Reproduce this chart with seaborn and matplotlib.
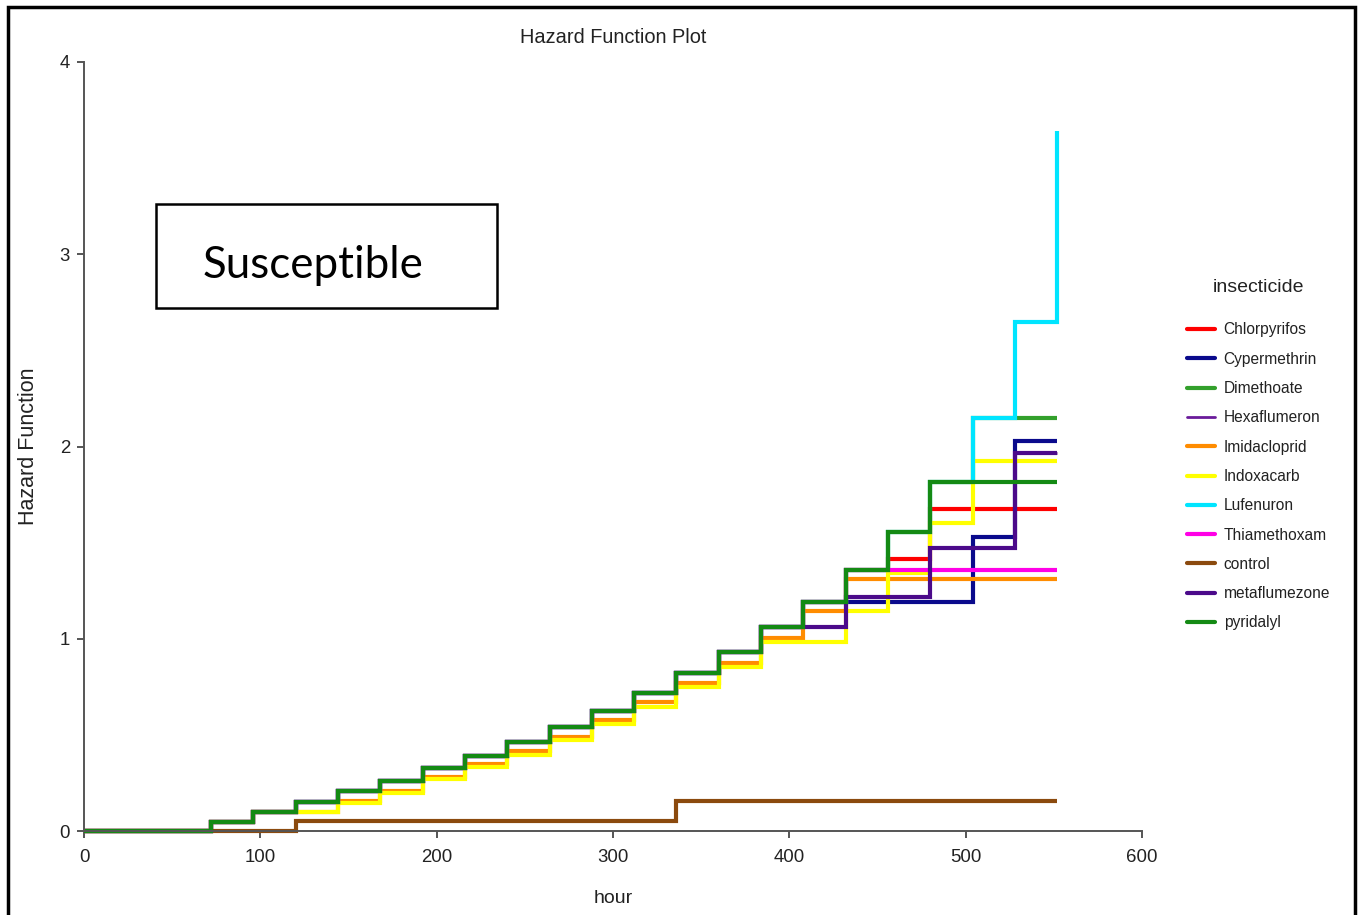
import numpy as np
import pandas as pd
import matplotlib
matplotlib.use("Agg")
import matplotlib.pyplot as plt
import seaborn as sns
from matplotlib.patches import Rectangle
from matplotlib.lines import Line2D

# ---------------- data ----------------
hours = [0, 24, 48, 72, 96, 120, 144, 168, 192, 216, 240, 264, 288, 312,
         336, 360, 384, 408, 432, 456, 480, 504, 528, 552]

insecticides = ["Chlorpyrifos", "Cypermethrin", "Dimethoate", "Hexaflumeron",
                "Imidacloprid", "Indoxacarb", "Lufenuron", "Thiamethoxam",
                "control", "metaflumezone", "pyridalyl"]

chlorpyrifos = [0, 0, 0, 0.048, 0.10, 0.152, 0.21, 0.26, 0.33, 0.39, 0.464, 0.543,
                0.624, 0.72, 0.82, 0.933, 1.06, 1.193, 1.358, 1.415, 1.673, 1.673, 1.673, 1.673]
cypermethrin = [0, 0, 0, 0.048, 0.10, 0.152, 0.21, 0.26, 0.33, 0.39, 0.464, 0.543,
                0.624, 0.72, 0.82, 0.933, 1.06, 1.193, 1.193, 1.193, 1.193, 1.53, 2.028, 2.028]
dimethoate = [0, 0, 0, 0.048, 0.10, 0.152, 0.21, 0.26, 0.33, 0.39, 0.464, 0.543,
              0.624, 0.72, 0.82, 0.933, 1.06, 1.193, 1.358, 1.557, 1.814, 2.147, 2.147, 2.147]
hexaflumeron = [0, 0, 0, 0.048, 0.10, 0.152, 0.21, 0.26, 0.33, 0.39, 0.464, 0.543,
                0.624, 0.72, 0.82, 0.933, 1.06, 1.06, 1.215, 1.215, 1.474, 1.474, 1.968, 1.968]
imidacloprid = [0, 0, 0, 0.048, 0.10, 0.10, 0.156, 0.21, 0.283, 0.347, 0.418, 0.487,
                0.577, 0.673, 0.768, 0.876, 1.002, 1.146, 1.31, 1.31, 1.31, 1.31, 1.31, 1.31]
indoxacarb = [0, 0, 0, 0.048, 0.10, 0.10, 0.146, 0.20, 0.27, 0.335, 0.397, 0.475,
              0.557, 0.647, 0.747, 0.855, 0.985, 0.985, 1.146, 1.34, 1.60, 1.926, 1.926, 1.926]
lufenuron = [0, 0, 0, 0.048, 0.10, 0.152, 0.21, 0.26, 0.33, 0.39, 0.464, 0.543,
             0.624, 0.72, 0.82, 0.933, 1.06, 1.193, 1.358, 1.557, 1.814, 2.147, 2.648, 3.64]
thiamethoxam = [0, 0, 0, 0.048, 0.10, 0.152, 0.21, 0.26, 0.33, 0.39, 0.464, 0.543,
                0.624, 0.72, 0.82, 0.933, 1.06, 1.193, 1.358, 1.358, 1.358, 1.358, 1.358, 1.358]
control = [0, 0, 0, 0, 0, 0.054, 0.054, 0.054, 0.054, 0.054, 0.054, 0.054,
           0.054, 0.054, 0.156, 0.156, 0.156, 0.156, 0.156, 0.156, 0.156, 0.156, 0.156, 0.156]
metaflumezone = [0, 0, 0, 0.048, 0.10, 0.152, 0.21, 0.26, 0.33, 0.39, 0.464, 0.543,
                 0.624, 0.72, 0.82, 0.933, 1.06, 1.06, 1.215, 1.215, 1.474, 1.474, 1.968, 1.968]
pyridalyl = [0, 0, 0, 0.048, 0.10, 0.152, 0.21, 0.26, 0.33, 0.39, 0.464, 0.543,
             0.624, 0.72, 0.82, 0.933, 1.06, 1.193, 1.358, 1.557, 1.814, 1.814, 1.814, 1.814]

series_values = [chlorpyrifos, cypermethrin, dimethoate, hexaflumeron, imidacloprid,
                 indoxacarb, lufenuron, thiamethoxam, control, metaflumezone, pyridalyl]

x_ticks = [0, 100, 200, 300, 400, 500, 600]
y_ticks = [0, 1, 2, 3, 4]

# ---------------- style ----------------
colors = ["#ff0000", "#0a0a8c", "#33a02c", "#6a1b9a", "#ff8c00", "#ffff00",
          "#00e5ff", "#ff00e6", "#8b4a0e", "#4b0a8a", "#148a14"]
widths = [3.0, 3.0, 3.0, 2.0, 3.0, 3.0, 3.0, 3.0, 3.0, 3.0, 3.0]

sns.set_theme(style="white")
plt.rcParams['font.family'] = ['Liberation Sans', 'DejaVu Sans']

df = pd.DataFrame({"hour": hours})
for name, vals in zip(insecticides, series_values):
    df[name] = vals
long = df.melt(id_vars="hour", var_name="insecticide", value_name="hazard")

fig = plt.figure(figsize=(13.62, 9.15), dpi=100)
W, H = 1362, 915
ax = fig.add_axes([84 / W, 1 - 831 / H, (1142 - 84) / W, (831 - 62) / H])

for name, col, lw in zip(insecticides, colors, widths):
    sub = long[long["insecticide"] == name]
    sns.lineplot(data=sub, x="hour", y="hazard", ax=ax, color=col, lw=lw,
                 drawstyle="steps-post", label=name, clip_on=False,
                 solid_joinstyle="miter", solid_capstyle="butt")

ax.set_xlim(0, 600)
ax.set_ylim(0, 4)
ax.set_xticks(x_ticks)
ax.set_yticks(y_ticks)
for s in ["top", "right"]:
    ax.spines[s].set_visible(False)
for s in ["left", "bottom"]:
    ax.spines[s].set_color("#555555")
    ax.spines[s].set_linewidth(1.4)
ax.tick_params(axis="both", direction="out", length=5, width=1.4, color="#555555",
               labelsize=13.4, labelcolor="#222222", left=True, bottom=True)
ax.tick_params(axis="y", pad=5)
ax.tick_params(axis="x", pad=8)

ax.set_title("Hazard Function Plot", fontsize=14.4, color="#222222", pad=14)
ax.set_xlabel("hour", fontsize=14, color="#222222", labelpad=17.5)
ax.set_ylabel("Hazard Function", fontsize=15.5, color="#222222", labelpad=15)

# legend
handles = [Line2D([0], [0], color=c, lw=lw) for c, lw in zip(colors, widths)]
leg = ax.legend(handles, insecticides, title="insecticide", loc="upper left",
                bbox_to_anchor=(1173 / W, 1 - 265 / H), bbox_transform=fig.transFigure,
                frameon=False, fontsize=11.2, title_fontsize=14, handlelength=1.8,
                handletextpad=0.56, labelspacing=0.92)
leg._legend_box.sep = 19
for t in leg.get_texts():
    t.set_color("#222222")
leg.get_title().set_color("#222222")

# "Susceptible" box
fig.patches.append(Rectangle((156 / W, 1 - 308 / H), (497 - 156) / W, (308 - 204) / H,
                             transform=fig.transFigure, fill=False, ec="black", lw=1.8))
fig.text(313 / W, 1 - 265 / H, "Susceptible", fontsize=31.6, family=["Lato", "DejaVu Sans"],
         ha="center", va="center", color="black")

# outer frame
fig.patches.append(Rectangle((8 / W, -0.05), (1355 - 8) / W, 1 - 7 / H + 0.05,
                             transform=fig.transFigure, fill=False, ec="black", lw=2.5))

fig.savefig("out.png", dpi=100)
